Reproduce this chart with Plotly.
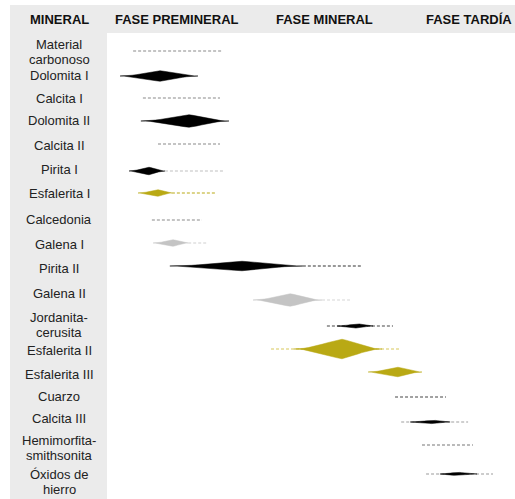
import plotly.graph_objects as go

# ---------------- data ----------------
minerals = ["Material\ncarbonoso", "Dolomita I", "Calcita I", "Dolomita II", "Calcita II",
            "Pirita I", "Esfalerita I", "Calcedonia", "Galena I", "Pirita II", "Galena II",
            "Jordanita-\ncerusita", "Esfalerita II", "Esfalerita III", "Cuarzo", "Calcita III",
            "Hemimorfita-\nsmithsonita", "Óxidos de\nhierro"]
phases = ["FASE PREMINERAL", "FASE MINERAL", "FASE TARDÍA"]
header_first = "MINERAL"

# dashed (sporadic) presence interval on a relative-time scale 0-100 (None = none)
dash_start = [6.4, None, 8.8, None, 12.5, 14.2, 15.9, 11.0, 19.9, 48.0, 52.7, 53.9, 40.2, None, 70.6, 72.1, 77.2, 78.2]
dash_end   = [28.2, None, 27.7, None, 27.7, 28.7, 26.7, 23.3, 24.8, 62.7, 60.0, 70.1, 71.8, None, 83.1, 88.5, 89.7, 94.6]
# abundance lens: start, peak, end, relative abundance (half thickness, in row units)
lens_start = [None, 3.2, None, 8.3, None, 5.4, 7.6, None, 11.3, 15.4, 35.8, 56.4, 45.8, 64.0, None, 74.3, None, 81.6]
lens_peak  = [None, 13.0, None, 20.1, None, 10.3, 12.5, None, 16.2, 33.1, 44.9, 61.5, 57.6, 71.3, None, 80.1, None, 86.0]
lens_end   = [None, 22.3, None, 29.9, None, 14.2, 15.9, None, 19.9, 48.0, 52.7, 65.2, 67.4, 77.2, None, 84.1, None, 90.7]
abundance  = [None, 0.21, None, 0.25, None, 0.15, 0.13, None, 0.13, 0.19, 0.25, 0.09, 0.39, 0.19, None, 0.07, None, 0.07]

# ---------------- layout / styles ----------------
BLACK, OLIVE, LGRAY = "#000000", "#b9a914", "#c4c4c4"
lens_color = [None, BLACK, None, BLACK, None, BLACK, OLIVE, None, LGRAY, BLACK, LGRAY,
              BLACK, OLIVE, OLIVE, None, BLACK, None, BLACK]
dash_color = ["#8a8a8a", None, "#8a8a8a", None, "#8a8a8a", "#c0c0c0", OLIVE, "#8a8a8a", "#d0d0d0",
              "#333333", "#d6d6d6", "#444444", "#d8c85a", None, "#444444", "#a0a0a0", "#777777", "#999999"]
# vertical placement of each row's marks and label (page pixels from top)
row_px = [51, 76, 98, 121, 144, 171, 193, 220, 243, 266, 300, 326, 349, 372, 397, 422, 445, 474]
label_px = [52, 75.7, 99, 120.7, 145.7, 169.3, 194, 219.3, 244.3, 268.3, 293.3, 324.5, 350, 374.3,
            396.7, 418.3, 448, 482]
phase_px = [177, 324, 469]
ROW_SCALE = 25.0   # pixels per row unit for lens thickness
LINE_GAP = 15.0

W, H = 515, 499
LEFT, TOP = 107, 33
FONT = "Liberation Sans, Arial, sans-serif"

fig = go.Figure()

# dashed lines
for i in range(len(minerals)):
    if dash_start[i] is not None:
        fig.add_trace(go.Scatter(x=[dash_start[i], dash_end[i]], y=[row_px[i], row_px[i]], mode="lines",
                                 line=dict(color=dash_color[i], width=1.2, dash="3px,2px"),
                                 hoverinfo="skip", showlegend=False))


def lens_profile(f):
    smooth = (f * f * (3 - 2 * f)) ** 1.3
    return 0.5 * f ** 1.6 + 0.5 * smooth


# lenses
prof = [k / 10 for k in range(11)]
for i in range(len(minerals)):
    if lens_start[i] is None:
        continue
    s, p, e = lens_start[i], lens_peak[i], lens_end[i]
    h = abundance[i] * ROW_SCALE
    yc = row_px[i]
    xs, ys = [], []
    for f in prof:                      # left tip -> peak (upper edge)
        xs.append(s + (p - s) * f); ys.append(yc - h * lens_profile(f))
    for f in reversed(prof[:-1]):       # peak -> right tip (upper edge)
        xs.append(e - (e - p) * f); ys.append(yc - h * lens_profile(f))
    for f in prof[1:]:                  # right tip -> peak (lower edge)
        xs.append(e - (e - p) * f); ys.append(yc + h * lens_profile(f))
    for f in reversed(prof[:-1]):       # peak -> left tip (lower edge)
        xs.append(s + (p - s) * f); ys.append(yc + h * lens_profile(f))
    fig.add_trace(go.Scatter(x=xs, y=ys, mode="lines", fill="toself",
                             fillcolor=lens_color[i], line=dict(color=lens_color[i], width=0.5),
                             hoverinfo="skip", showlegend=False))

shapes = [
    dict(type="rect", xref="paper", yref="paper", x0=10 / W, x1=1, y0=1 - TOP / H, y1=1 - 5 / H,
         fillcolor="#ebebeb", line=dict(width=0), layer="below"),
    dict(type="rect", xref="paper", yref="paper", x0=10 / W, x1=LEFT / W, y0=0, y1=1 - 5 / H,
         fillcolor="#ebebeb", line=dict(width=0), layer="below"),
]

annotations = [dict(text="<b>%s</b>" % header_first, xref="paper", yref="paper", x=59 / W, y=1 - 19 / H,
                    showarrow=False, xanchor="center", yanchor="middle",
                    font=dict(family=FONT, size=13, color="#111"))]
for ph, px in zip(phases, phase_px):
    annotations.append(dict(text="<b>%s</b>" % ph, xref="paper", yref="paper", x=px / W, y=1 - 19 / H,
                            showarrow=False, xanchor="center", yanchor="middle",
                            font=dict(family=FONT, size=13, color="#111")))
for i, name in enumerate(minerals):
    lines = name.split("\n")
    n = len(lines)
    for k, ln in enumerate(lines):
        off = (k - (n - 1) / 2) * LINE_GAP
        annotations.append(dict(text=ln, xref="paper", yref="y", x=59 / W, y=label_px[i] + off,
                                showarrow=False, xanchor="center", yanchor="middle",
                                font=dict(family=FONT, size=13, color="#222")))

fig.update_layout(
    width=W, height=H, margin=dict(l=0, r=0, t=0, b=0),
    paper_bgcolor="white", plot_bgcolor="white",
    xaxis=dict(domain=[LEFT / W, 1], range=[0, 100], visible=False, fixedrange=True),
    yaxis=dict(domain=[0, 1 - TOP / H], range=[H, TOP], visible=False, fixedrange=True),
    shapes=shapes, annotations=annotations, showlegend=False,
)

fig.write_html("out.html", config={"displayModeBar": False},
               post_script="document.body.style.margin='0px';document.body.style.overflow='hidden';")
